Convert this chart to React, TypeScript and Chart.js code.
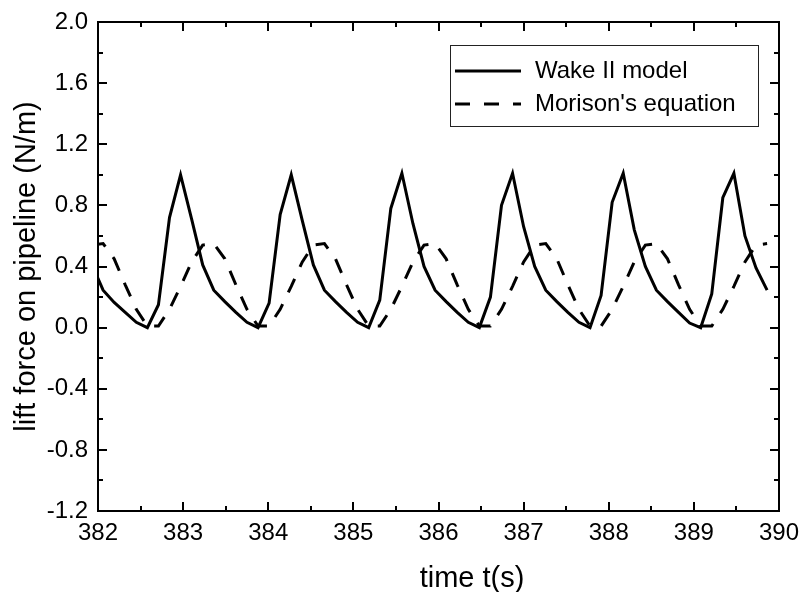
import React, { useEffect, useRef } from 'react';
import { Chart, registerables } from 'chart.js';

Chart.register(...registerables);

// time samples (s)
const timeS = [
  381.93, 382.06, 382.19, 382.32, 382.45,
  382.58, 382.71, 382.84, 382.97, 383.10, 383.23, 383.36, 383.49, 383.62, 383.75,
  383.88, 384.01, 384.14, 384.27, 384.40, 384.53, 384.66, 384.79, 384.92, 385.05,
  385.18, 385.31, 385.44, 385.57, 385.70, 385.83, 385.96, 386.09, 386.22, 386.35,
  386.48, 386.61, 386.74, 386.87, 387.00, 387.13, 387.26, 387.39, 387.52, 387.65,
  387.78, 387.91, 388.04, 388.17, 388.30, 388.43, 388.56, 388.69, 388.82, 388.95,
  389.08, 389.21, 389.34, 389.47, 389.60, 389.73, 389.86,
];

// Wake II model lift force (N/m)
const wakeII = [
  0.41, 0.245, 0.165, 0.10, 0.035,
  0.0, 0.15, 0.72, 1.0, 0.71, 0.41, 0.245, 0.17, 0.10, 0.035,
  0.0, 0.16, 0.74, 1.0, 0.70, 0.41, 0.245, 0.17, 0.10, 0.035,
  0.0, 0.18, 0.78, 1.01, 0.68, 0.40, 0.245, 0.17, 0.10, 0.035,
  0.0, 0.20, 0.80, 1.01, 0.66, 0.40, 0.245, 0.17, 0.10, 0.035,
  0.0, 0.21, 0.82, 1.01, 0.64, 0.40, 0.245, 0.17, 0.10, 0.03,
  0.0, 0.22, 0.85, 1.01, 0.60, 0.39, 0.245,
];

// Morison's equation lift force (N/m)
const morison = [
  0.54, 0.55, 0.45, 0.28, 0.12,
  0.01, 0.01, 0.12, 0.27, 0.43, 0.54, 0.55, 0.45, 0.28, 0.12,
  0.01, 0.01, 0.12, 0.27, 0.43, 0.54, 0.55, 0.45, 0.28, 0.12,
  0.01, 0.01, 0.12, 0.27, 0.43, 0.54, 0.55, 0.45, 0.28, 0.12,
  0.01, 0.01, 0.12, 0.27, 0.43, 0.54, 0.55, 0.45, 0.28, 0.12,
  0.01, 0.01, 0.12, 0.27, 0.43, 0.54, 0.55, 0.45, 0.28, 0.12,
  0.01, 0.01, 0.12, 0.27, 0.43, 0.54, 0.55,
];

const seriesNames = ['Wake II model', "Morison's equation"];
const xTitle = 'time t(s)';
const yTitle = 'lift force on pipeline (N/m)';
const xRange = [382, 390];
const yRange = [-1.2, 2.0];

const FONT = '"Liberation Sans", Arial, sans-serif';

const isMultiple = (v: number, step: number) =>
  Math.abs(Math.round(v / step) * step - v) < 1e-6;

const framePlugin = {
  id: 'frameTicks',
  afterDraw(chart: any) {
    const { ctx, chartArea } = chart;
    const { left, right, top, bottom } = chartArea;
    const xs = chart.scales.x;
    const ys = chart.scales.y;
    ctx.save();
    ctx.strokeStyle = '#000';
    ctx.lineWidth = 2;
    ctx.lineCap = 'butt';
    ctx.strokeRect(left, top, right - left, bottom - top);
    ctx.beginPath();
    xs.ticks.forEach((t: any) => {
      const px = Math.round(xs.getPixelForValue(t.value));
      const len = isMultiple(t.value, 1) ? 9 : 5;
      ctx.moveTo(px, bottom);
      ctx.lineTo(px, bottom - len);
      ctx.moveTo(px, top);
      ctx.lineTo(px, top + len);
    });
    ys.ticks.forEach((t: any) => {
      const py = Math.round(ys.getPixelForValue(t.value));
      const len = isMultiple(t.value, 0.4) ? 9 : 5;
      ctx.moveTo(left, py);
      ctx.lineTo(left + len, py);
      ctx.moveTo(right, py);
      ctx.lineTo(right - len, py);
    });
    ctx.stroke();

    // x axis title (placed right of the plot centre, as in the reference)
    ctx.fillStyle = '#000';
    ctx.font = `29px ${FONT}`;
    ctx.textBaseline = 'middle';
    ctx.textAlign = 'center';
    ctx.fillText(xTitle, 472, 579);

    // legend box
    const bx = 450.5, by = 45.5, bw = 308, bh = 81;
    ctx.lineWidth = 1;
    ctx.strokeStyle = '#222';
    ctx.strokeRect(bx, by, bw, bh);
    const rows = [71, 104];
    chart.data.datasets.forEach((ds: any, i: number) => {
      ctx.beginPath();
      ctx.strokeStyle = '#000';
      ctx.lineWidth = 3;
      ctx.setLineDash(i === 1 ? [15, 14] : []);
      ctx.moveTo(455, rows[i]);
      ctx.lineTo(521, rows[i]);
      ctx.stroke();
      ctx.setLineDash([]);
      ctx.fillStyle = '#000';
      ctx.font = `24px ${FONT}`;
      ctx.textBaseline = 'middle';
      ctx.textAlign = 'left';
      ctx.fillText(ds.label, 535, rows[i]);
    });
    ctx.restore();
  },
};

export default function App() {
  const ref = useRef<HTMLCanvasElement | null>(null);
  useEffect(() => {
    if (!ref.current) return;
    const chart = new Chart(ref.current, {
      type: 'line',
      data: {
        datasets: [
          {
            label: seriesNames[0],
            data: timeS.map((t, i) => ({ x: t, y: wakeII[i] })),
            borderColor: '#000',
            borderWidth: 3,
            pointRadius: 0,
            tension: 0,
            fill: false,
          },
          {
            label: seriesNames[1],
            data: timeS.map((t, i) => ({ x: t, y: morison[i] })),
            borderColor: '#000',
            borderWidth: 3,
            borderDash: [15, 13],
            pointRadius: 0,
            tension: 0,
            fill: false,
          },
        ],
      },
      options: {
        animation: false,
        responsive: false,
        devicePixelRatio: 1,
        layout: { padding: { top: 22, right: 21, left: 0, bottom: 0 } },
        plugins: {
          legend: { display: false },
          tooltip: { enabled: false },
        },
        scales: {
          x: {
            type: 'linear',
            min: xRange[0],
            max: xRange[1],
            grid: { display: false, drawTicks: false },
            border: { display: false },
            ticks: {
              stepSize: 0.5,
              autoSkip: false,
              maxRotation: 0,
              padding: 8,
              color: '#000',
              font: { family: FONT, size: 24 },
              callback: (v: any) => (isMultiple(Number(v), 1) ? String(Math.round(Number(v))) : ''),
            },
            title: { display: false, text: xTitle },
            afterFit: (s: any) => {
              s.height = 81;
              s.paddingLeft = 0;
              s.paddingRight = 0;
              s.paddingTop = 0;
              s.paddingBottom = 0;
            },
          },
          y: {
            type: 'linear',
            min: yRange[0],
            max: yRange[1],
            grid: { display: false, drawTicks: false },
            border: { display: false },
            ticks: {
              stepSize: 0.2,
              autoSkip: false,
              padding: 10,
              color: '#000',
              font: { family: FONT, size: 24 },
              callback: (v: any) => {
                const n = Number(v);
                return isMultiple(n, 0.4) ? (Math.round(n * 10) / 10 + 0).toFixed(1) : '';
              },
            },
            title: {
              display: true,
              text: yTitle,
              color: '#000',
              font: { family: FONT, size: 29 },
              padding: { top: 10, bottom: 0 },
            },
            afterFit: (s: any) => {
              s.width = 98;
              s.paddingLeft = 0;
              s.paddingRight = 0;
              s.paddingTop = 0;
              s.paddingBottom = 0;
            },
          },
        },
      },
      plugins: [framePlugin],
    });
    return () => chart.destroy();
  }, []);

  return (
    <div style={{ position: 'absolute', left: 0, top: 0, width: 800, height: 592, background: '#fff' }}>
      <canvas ref={ref} width={800} height={592} style={{ width: 800, height: 592 }} />
    </div>
  );
}
